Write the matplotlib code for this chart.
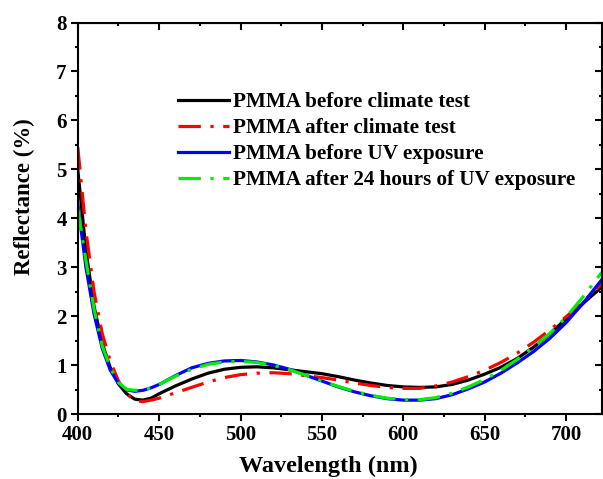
import matplotlib
matplotlib.use("Agg")
import matplotlib.pyplot as plt
from matplotlib.ticker import MultipleLocator

# wavelength grid (nm)
wavelength = [400, 405, 410, 415, 420, 425, 430, 435, 440, 445, 450, 460, 470, 480,
              490, 500, 510, 520, 530, 540, 550, 560, 570, 580, 590, 600, 610, 620,
              630, 640, 650, 660, 670, 680, 690, 700, 710, 722]

before_climate = [4.99, 3.35, 2.20, 1.45, 0.95, 0.62, 0.42, 0.31, 0.29, 0.33, 0.42, 0.58,
                  0.72, 0.84, 0.92, 0.96, 0.97, 0.95, 0.91, 0.87, 0.83, 0.77, 0.70, 0.64,
                  0.59, 0.56, 0.55, 0.56, 0.61, 0.70, 0.82, 0.96, 1.14, 1.37, 1.64, 1.95,
                  2.25, 2.60]
after_climate = [5.45, 3.75, 2.50, 1.65, 1.08, 0.68, 0.42, 0.28, 0.26, 0.29, 0.33, 0.44,
                 0.55, 0.66, 0.75, 0.81, 0.84, 0.85, 0.83, 0.79, 0.75, 0.70, 0.64, 0.59,
                 0.55, 0.53, 0.53, 0.58, 0.66, 0.77, 0.90, 1.06, 1.25, 1.47, 1.72, 1.99,
                 2.28, 2.66]
before_uv = [4.30, 3.00, 2.05, 1.35, 0.90, 0.63, 0.50, 0.47, 0.49, 0.54, 0.61, 0.79,
             0.95, 1.04, 1.09, 1.10, 1.07, 1.01, 0.92, 0.80, 0.68, 0.56, 0.46, 0.38,
             0.32, 0.29, 0.29, 0.32, 0.40, 0.52, 0.66, 0.84, 1.05, 1.28, 1.55, 1.87,
             2.25, 2.75]
after_uv = [4.20, 3.15, 2.15, 1.40, 0.95, 0.65, 0.51, 0.49, 0.50, 0.54, 0.61, 0.78,
            0.92, 1.02, 1.07, 1.08, 1.06, 1.00, 0.91, 0.80, 0.68, 0.57, 0.47, 0.39,
            0.33, 0.30, 0.30, 0.34, 0.43, 0.56, 0.71, 0.90, 1.12, 1.37, 1.65, 1.98,
            2.38, 2.90]

labels = ["PMMA before climate test", "PMMA after climate test",
          "PMMA before UV exposure", "PMMA after 24 hours of UV exposure"]

plt.rcParams['font.family'] = ['Liberation Serif', 'DejaVu Serif']
plt.rcParams['font.weight'] = 'bold'

fig = plt.figure(figsize=(6.03, 4.79), dpi=100)
ax = fig.add_axes([0.129, 0.135, 0.869, 0.818])

dashdot = (0, (7, 3, 1, 3))
lw = 2.3
ax.plot(wavelength, before_climate, color='black', lw=lw, label=labels[0])
ax.plot(wavelength, after_climate, color='red', lw=lw, ls=dashdot, label=labels[1])
ax.plot(wavelength, before_uv, color='blue', lw=lw, label=labels[2])
ax.plot(wavelength, after_uv, color='#00ee00', lw=lw, ls=dashdot, label=labels[3])

ax.set_xlim(400, 722)
ax.set_ylim(0, 8)
ax.xaxis.set_major_locator(MultipleLocator(50))
ax.xaxis.set_minor_locator(MultipleLocator(25))
ax.yaxis.set_major_locator(MultipleLocator(1))
ax.yaxis.set_minor_locator(MultipleLocator(0.5))

for s in ax.spines.values():
    s.set_linewidth(1.5)
ax.tick_params(which='major', direction='out', length=5, width=1.5, labelsize=15, pad=3)
ax.tick_params(which='minor', direction='out', length=2.5, width=1.5)
for lab in ax.get_xticklabels() + ax.get_yticklabels():
    lab.set_fontweight('bold')

# mirrored ticks on top and right pointing into the plot
top = ax.secondary_xaxis('top')
top.xaxis.set_major_locator(MultipleLocator(50))
top.xaxis.set_minor_locator(MultipleLocator(25))
top.tick_params(which='major', direction='in', length=5, width=1.5, labeltop=False)
top.tick_params(which='minor', direction='in', length=2.5, width=1.5)
right = ax.secondary_yaxis('right')
right.yaxis.set_major_locator(MultipleLocator(1))
right.yaxis.set_minor_locator(MultipleLocator(0.5))
right.tick_params(which='major', direction='in', length=5, width=1.5, labelright=False)
right.tick_params(which='minor', direction='in', length=2.5, width=1.5)

ax.set_xlabel("Wavelength (nm)", fontsize=17.5, fontweight='bold', labelpad=7.5, x=0.478)
ax.set_ylabel("Reflectance (%)", fontsize=16.5, fontweight='bold', labelpad=15, y=0.555)

ax.legend(loc='upper left', bbox_to_anchor=(0.191, 0.822), frameon=False,
          prop={'size': 15.2, 'weight': 'bold'}, handlelength=2.4, handletextpad=0.2,
          labelspacing=0.28, borderpad=0, borderaxespad=0)

fig.savefig("out.png", dpi=100)
